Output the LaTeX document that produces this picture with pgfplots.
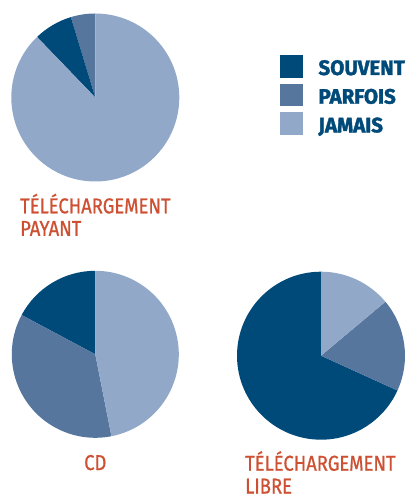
\documentclass[border=0pt]{standalone}
\usepackage{pgfplots}
\pgfplotsset{compat=1.18}
\usepackage{fontspec}
\setmainfont{Fira Sans}
\newfontfamily\labelfont{Fira Sans}[FakeStretch=0.86, FakeBold=0.8]
\newfontfamily\legfont{Fira Sans}[FakeStretch=0.98, BoldFeatures={FakeBold=1.8}]
\definecolor{souvent}{RGB}{0,74,121}
\definecolor{parfois}{RGB}{86,118,158}
\definecolor{jamais}{RGB}{146,168,200}
\definecolor{lbl}{RGB}{205,80,50}

% #1 radius, #2 list of percentage/colour, counterclockwise from 12 o'clock
\newcommand\pie[2]{%
  \pgfplotsextra{%
    \xdef\cumul{90}%
    \foreach \v/\c in {#2}{%
      \pgfmathsetmacro\a{\cumul}%
      \pgfmathsetmacro\b{\cumul+3.6*\v}%
      \fill[\c] (axis cs:0,0) -- ++(\a:#1) arc[start angle=\a, end angle=\b, radius=#1] -- cycle;
      \xdef\cumul{\b}%
    }%
  }%
}
\pgfplotsset{pie/.style={hide axis, clip=false, anchor=center,
  xmin=-1, xmax=1, ymin=-1, ymax=1, x=#1, y=#1}}

\begin{document}
\begin{tikzpicture}
\useasboundingbox (0,0) rectangle (406bp,497bp);

% Telechargement payant
\begin{axis}[pie=84bp, at={(95.3bp,399.5bp)}]
  \pie{84bp}{4.7/parfois, 7.5/souvent, 87.8/jamais}
\end{axis}

% CD
\begin{axis}[pie=83.5bp, at={(95.3bp,142.7bp)}]
  \pie{83.5bp}{17.2/souvent, 35.9/parfois, 46.9/jamais}
\end{axis}

% Telechargement libre
\begin{axis}[pie=84bp, at={(321bp,141.3bp)}]
  \pie{84bp}{68.2/souvent, 17.9/parfois, 13.9/jamais}
\end{axis}

% legend
\fill[souvent] (280bp,442bp) rectangle ++(22.7bp,-22.7bp);
\fill[parfois] (280bp,413.3bp) rectangle ++(22.7bp,-22.7bp);
\fill[jamais]  (280bp,384.6bp) rectangle ++(22.7bp,-22.7bp);
\begin{scope}[every node/.style={anchor=base west, inner sep=0pt, text=souvent,
   font={\legfont\bfseries\fontsize{21}{24}\selectfont}}]
\node at (318.3bp,422bp) {SOUVENT};
\node at (318.3bp,393.3bp) {PARFOIS};
\node at (318.3bp,364.6bp) {JAMAIS};
\end{scope}

% labels
\begin{scope}[every node/.style={inner sep=0pt, text=lbl,
   font={\labelfont\fontsize{21.5}{24}\selectfont}}]
\node[anchor=base west] at (20bp,283.7bp) {TÉLÉCHARGEMENT};
\node[anchor=base west] at (20bp,261.2bp) {PAYANT};
\node[anchor=base] at (95.3bp,27bp) {CD};
\node[anchor=base west] at (245bp,26.3bp) {TÉLÉCHARGEMENT};
\node[anchor=base west] at (245bp,3.5bp) {LIBRE};
\end{scope}
\end{tikzpicture}
\end{document}
